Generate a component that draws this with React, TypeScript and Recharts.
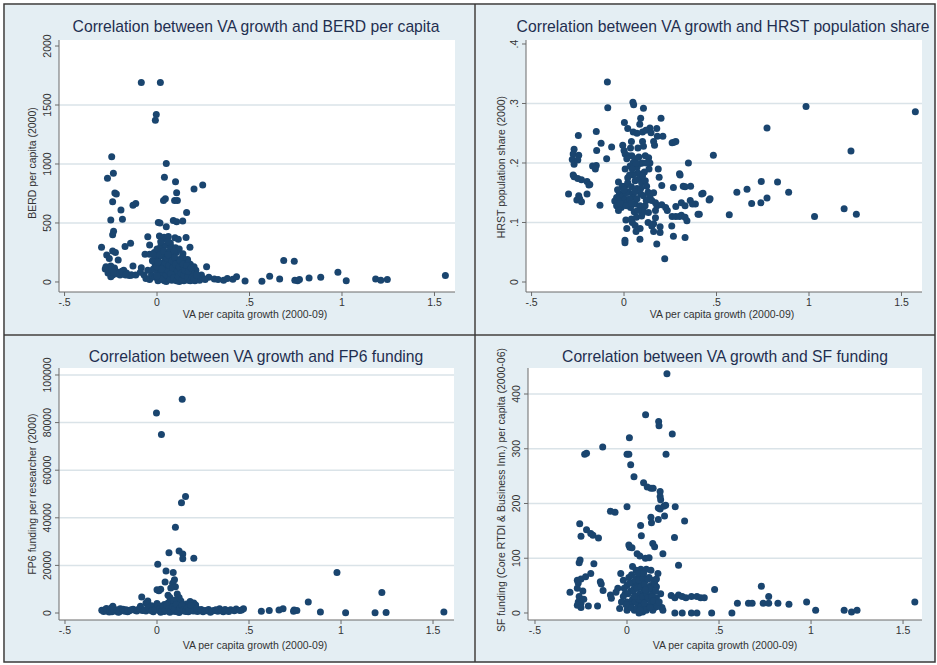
import React from 'react';
import { ScatterChart, Scatter, XAxis, YAxis, CartesianGrid } from 'recharts';

// ---------- tick values & labels ----------
const xTickValues = [-0.5, 0, 0.5, 1, 1.5];
const xTickLabels = ['-.5', '0', '.5', '1', '1.5'];

const berdTicks = [0, 500, 1000, 1500, 2000];
const berdTickLabels = ['0', '500', '1000', '1500', '2000'];
const hrstTicks = [0, 0.1, 0.2, 0.3, 0.4];
const hrstTickLabels = ['0', '.1', '.2', '.3', '.4'];
const fp6Ticks = [0, 20000, 40000, 60000, 80000, 100000];
const fp6TickLabels = ['0', '20000', '40000', '60000', '80000', '100000'];
const sfTicks = [0, 100, 200, 300, 400];
const sfTickLabels = ['0', '100', '200', '300', '400'];

// ---------- data: [VA per capita growth, indicator] ----------
const berdPoints: [number, number][] = [
  [-0.085, 1690], [0.018, 1690], [-0.004, 1420], [-0.009, 1370],
  [0.05, 1005], [-0.245, 1062], [-0.236, 921], [-0.268, 879], [0.04, 887], [0.1, 850], [0.2, 788], [0.247, 822],
  [-0.228, 755], [-0.22, 745], [-0.24, 680], [-0.13, 650], [-0.115, 665], [0.106, 757], [0.045, 705], [0.035, 690], [0.095, 690], [0.11, 690],
  [-0.195, 610], [-0.25, 525], [-0.187, 531], [0.16, 588], [0.007, 505], [0.016, 500], [0.05, 469], [0.088, 520], [0.106, 510], [0.139, 517],
  [-0.235, 430], [-0.24, 400], [-0.05, 384], [0.013, 390], [0.038, 380], [0.05, 365], [0.061, 385], [0.097, 375], [0.115, 362], [0.157, 376],
  [-0.3, 294], [-0.173, 300], [-0.143, 328], [-0.04, 313], [0.178, 294],
  [-0.24, 262], [-0.225, 250], [-0.272, 229], [-0.258, 200], [-0.21, 186], [-0.065, 234], [-0.04, 234],
  [-0.276, 130], [-0.25, 135], [-0.23, 118], [-0.21, 80], [-0.18, 100], [-0.165, 75], [-0.14, 60], [-0.115, 60], [-0.24, 60], [-0.26, 90],
  [-0.25, 45], [-0.13, 135], [-0.085, 120], [-0.09, 82], [-0.137, 60], [-0.225, 95], [-0.2, 60], [-0.15, 55],
  [0.268, 130], [0.18, 150], [0.165, 190], [0.22, 40], [0.25, 30],
  [0.28, 40], [0.31, 25], [0.33, 20], [0.36, 15], [0.38, 30], [0.41, 23], [0.43, 45], [0.476, 8], [0.567, 6], [0.609, 48], [0.663, 25],
  [0.685, 181], [0.742, 175], [0.745, 15], [0.76, 10], [0.77, 20], [0.822, 34], [0.885, 40], [0.978, 82], [1.023, 11], [1.182, 25],
  [1.21, 15], [1.245, 22], [1.559, 54],
  [-0.04, 20], [-0.03, 60], [-0.02, 110], [-0.01, 150], [-0.01, 40], [0.0, 200], [0.0, 90], [0.005, 10], [0.01, 250], [0.01, 170],
  [0.015, 60], [0.02, 130], [0.02, 20], [0.025, 220], [0.03, 95], [0.03, 280], [0.035, 160], [0.04, 50], [0.04, 10], [0.045, 200],
  [0.05, 120], [0.05, 240], [0.055, 75], [0.06, 180], [0.06, 30], [0.065, 260], [0.07, 140], [0.07, 100], [0.075, 200], [0.08, 60],
  [0.08, 15], [0.085, 230], [0.09, 160], [0.09, 110], [0.095, 40], [0.1, 190], [0.1, 80], [0.105, 250], [0.11, 130], [0.11, 20],
  [0.115, 170], [0.12, 60], [0.125, 100], [0.13, 200], [0.13, 30], [0.135, 140], [0.14, 90], [0.145, 10], [0.15, 170], [0.15, 50],
  [0.155, 120], [0.16, 30], [0.165, 80], [0.17, 15], [0.175, 110], [0.18, 50], [0.19, 20], [0.2, 75], [0.205, 10], [0.21, 100],
  [-0.025, 180], [-0.015, 250], [0.0, 280], [0.02, 300], [0.045, 310], [0.075, 300], [0.1, 290], [0.12, 280], [0.14, 240], [0.035, 130],
  [0.065, 50], [0.085, 190], [0.05, 5], [0.12, 5], [0.17, 160], [0.0, 130], [0.027, 70], [0.058, 150], [0.092, 260], [0.14, 210],
  [0.24, 60], [0.23, 15], [0.26, 20], [0.19, 70], [0.2, 130], [-0.05, 100], [-0.06, 30], [-0.07, 60], [-0.02, 230], [0.072, 330],
  [0.06, 340], [0.02, 340],
  [0.01, 40], [0.02, 75], [0.03, 30], [0.04, 110], [0.045, 160], [0.05, 60], [0.055, 200], [0.06, 95], [0.065, 140], [0.07, 20],
  [0.075, 70], [0.08, 180], [0.085, 120], [0.09, 35], [0.095, 210], [0.1, 150], [0.105, 10], [0.11, 95], [0.115, 45], [0.12, 130],
  [0.125, 180], [0.13, 75], [0.135, 20], [0.14, 150], [0.145, 60], [0.15, 100], [0.16, 140], [0.165, 40], [0.17, 90], [0.18, 10],
  [0.185, 120], [0.19, 40], [0.2, 25], [0.215, 60], [0.0, 50], [0.005, 170], [0.015, 230], [0.025, 110], [0.035, 260], [0.06, 230],
  [-0.28, 110], [-0.265, 75], [-0.245, 105], [-0.22, 70], [-0.19, 90], [-0.17, 60], [-0.235, 80],
];

const hrstPoints: [number, number][] = [
  [-0.09, 0.336], [-0.088, 0.293], [0.048, 0.302], [0.052, 0.298], [0.105, 0.292], [0.984, 0.295], [1.575, 0.286], [0.773, 0.259],
  [1.227, 0.22], [0.483, 0.213], [0.348, 0.2], [0.3, 0.182], [0.742, 0.169], [0.83, 0.168], [0.89, 0.151], [0.665, 0.156], [0.61, 0.151],
  [0.69, 0.132], [0.74, 0.133], [0.773, 0.141], [0.569, 0.113], [1.03, 0.11], [1.19, 0.123], [1.256, 0.114], [0.46, 0.138], [0.427, 0.149],
  [0.407, 0.114], [0.386, 0.131], [0.358, 0.137], [0.32, 0.161], [0.33, 0.16],
  [0.002, 0.268], [0.02, 0.258], [0.09, 0.275], [0.085, 0.265], [0.2, 0.275], [0.177, 0.258], [0.14, 0.259], [0.05, 0.252], [0.07, 0.25],
  [0.1, 0.252], [0.118, 0.255], [0.146, 0.251], [0.18, 0.245], [0.21, 0.245], [0.26, 0.234], [0.27, 0.235], [0.28, 0.236],
  [-0.247, 0.246], [-0.15, 0.253], [-0.124, 0.233], [-0.067, 0.227], [-0.007, 0.23], [0.04, 0.236], [0.1, 0.236], [0.105, 0.228],
  [0.16, 0.236], [0.165, 0.23],
  [-0.148, 0.221], [-0.27, 0.223], [-0.275, 0.215], [-0.28, 0.206], [-0.27, 0.198], [-0.245, 0.213], [-0.25, 0.205], [-0.094, 0.207],
  [-0.15, 0.196], [-0.17, 0.195], [-0.155, 0.19],
  [-0.275, 0.18], [-0.27, 0.177], [-0.25, 0.174], [-0.23, 0.172], [-0.2, 0.169], [-0.185, 0.164], [-0.3, 0.148], [-0.245, 0.145],
  [-0.255, 0.138], [-0.24, 0.14], [-0.2, 0.148], [-0.19, 0.163], [-0.13, 0.129], [-0.23, 0.135],
  [0.0, 0.221], [0.006, 0.215], [0.024, 0.212], [0.015, 0.207], [0.042, 0.212], [0.06, 0.207], [0.05, 0.201], [0.033, 0.195],
  [0.006, 0.19], [0.07, 0.193], [0.087, 0.199], [0.115, 0.212], [0.133, 0.209], [0.14, 0.2], [0.135, 0.19], [0.185, 0.19],
  [0.19, 0.176], [0.075, 0.183], [0.05, 0.18], [0.02, 0.175],
  [-0.03, 0.168], [-0.01, 0.161], [0.005, 0.161], [0.02, 0.167], [-0.025, 0.148], [-0.04, 0.142], [-0.05, 0.136], [-0.025, 0.139],
  [-0.005, 0.145], [0.005, 0.139], [0.025, 0.151], [0.05, 0.148], [-0.04, 0.128], [-0.015, 0.125], [-0.03, 0.12], [-0.005, 0.131],
  [0.02, 0.134], [0.05, 0.142],
  [0.08, 0.173], [0.095, 0.167], [0.115, 0.17], [0.122, 0.161], [0.09, 0.148], [0.105, 0.145], [0.13, 0.151], [0.14, 0.143],
  [0.15, 0.137], [0.06, 0.131], [0.087, 0.128], [0.114, 0.128], [0.105, 0.119], [0.132, 0.117], [0.17, 0.133], [0.178, 0.128],
  [0.204, 0.13], [0.204, 0.162], [0.267, 0.159], [0.303, 0.18], [0.36, 0.161], [0.225, 0.125], [0.234, 0.12], [0.28, 0.127],
  [0.31, 0.133], [0.33, 0.128], [0.37, 0.131], [0.42, 0.148], [0.465, 0.14], [0.4, 0.114],
  [0.26, 0.11], [0.28, 0.11], [0.3, 0.11], [0.31, 0.112], [0.33, 0.109], [0.34, 0.103], [0.258, 0.094], [0.267, 0.077], [0.33, 0.075],
  [0.01, 0.104], [0.04, 0.106], [0.067, 0.109], [0.095, 0.111], [0.1, 0.116], [0.015, 0.09], [0.06, 0.095], [0.087, 0.09],
  [0.005, 0.07], [0.005, 0.066], [0.086, 0.072], [0.177, 0.064], [0.22, 0.039], [0.13, 0.1], [0.15, 0.094], [0.16, 0.085],
  [0.195, 0.093], [0.195, 0.083], [0.16, 0.098], [0.17, 0.108],
  [0.03, 0.18], [0.06, 0.17], [0.04, 0.16], [0.07, 0.157], [0.01, 0.15], [0.035, 0.125], [0.055, 0.118], [0.075, 0.12], [0.045, 0.1],
  [0.065, 0.085],
  [-0.035, 0.155], [-0.02, 0.132], [0.0, 0.155], [0.012, 0.128], [0.03, 0.14], [0.04, 0.132], [0.06, 0.152], [0.07, 0.14],
  [0.045, 0.19], [0.065, 0.2], [0.08, 0.21], [0.1, 0.2], [0.11, 0.185], [0.12, 0.2], [0.1, 0.178], [0.035, 0.225], [0.075, 0.225],
  [0.12, 0.137], [0.16, 0.15], [0.17, 0.12], [0.09, 0.157],
];

const fp6Points: [number, number][] = [
  [0.137, 89800], [-0.003, 84000], [0.024, 75000], [0.155, 48900], [0.133, 46300], [0.1, 36000], [0.065, 25300], [0.12, 26100],
  [0.14, 24800], [0.14, 22800], [0.2, 23000], [0.004, 20500], [0.049, 17600], [0.088, 17000], [0.978, 17000], [1.222, 8600], [0.822, 4600],
  [0.044, 13000], [0.085, 12500], [0.095, 14000], [0.1, 11000], [0.075, 10500], [0.0, 9800], [0.01, 9300], [0.02, 10000], [0.06, 7500],
  [0.07, 6500], [0.11, 8000], [0.12, 6500], [0.13, 5000], [0.1, 5500], [0.115, 4200], [-0.083, 6700], [-0.05, 5000], [-0.06, 4200],
  [0.2, 4200], [0.18, 4800], [0.16, 3800],
  [-0.3, 1200], [-0.28, 1500], [-0.27, 800], [-0.25, 2000], [-0.24, 2800], [-0.23, 1200], [-0.22, 700], [-0.2, 1800], [-0.19, 1000],
  [-0.17, 1400], [-0.15, 900], [-0.13, 1600], [-0.12, 1200], [-0.1, 1500], [-0.09, 2800], [-0.08, 1000], [-0.26, 400], [-0.21, 300],
  [-0.16, 500], [-0.06, 800], [-0.04, 1600],
  [-0.03, 3000], [-0.02, 500], [0.0, 2200], [0.0, 4000], [0.01, 1000], [0.02, 2800], [0.02, 300], [0.03, 1700], [0.04, 3600], [0.04, 600],
  [0.05, 2400], [0.06, 1200], [0.06, 4200], [0.07, 300], [0.07, 2800], [0.08, 1800], [0.08, 3800], [0.09, 800], [0.09, 5000], [0.1, 2500],
  [0.1, 600], [0.11, 1500], [0.12, 3000], [0.12, 200], [0.13, 1900], [0.14, 900], [0.15, 2600], [0.16, 1200], [0.17, 500], [0.18, 2000],
  [0.19, 900], [0.2, 1400], [0.21, 3400], [0.22, 600], [0.23, 1200], [0.25, 500], [0.27, 900], [0.29, 300], [0.31, 1000], [0.33, 700],
  [0.34, 1800], [0.36, 500], [0.38, 900], [0.4, 1400], [0.43, 1700], [0.46, 1300], [0.47, 1800],
  [0.567, 700], [0.61, 1000], [0.663, 1300], [0.685, 1800], [0.742, 700], [0.745, 1300], [0.76, 1000], [0.888, 420], [1.025, 150],
  [1.185, 150], [1.245, 200], [1.559, 450],
  [-0.29, 600], [-0.275, 1900], [-0.255, 1100], [-0.245, 500], [-0.235, 1700], [-0.215, 1300], [-0.205, 500], [-0.185, 1600],
  [-0.175, 700], [-0.16, 1200], [-0.14, 1400], [-0.11, 800], [-0.095, 1900], [-0.07, 1300], [-0.05, 2200], [-0.03, 900],
  [-0.01, 1500], [0.005, 3200], [0.015, 1800], [0.025, 900], [0.035, 2600], [0.045, 1300], [0.055, 3300], [0.065, 1900],
  [0.075, 900], [0.085, 2600], [0.095, 1600], [0.105, 3600], [0.115, 700], [0.125, 2100], [0.135, 3300], [0.145, 1400],
  [0.155, 600], [0.165, 2200], [0.175, 1300], [0.185, 3100], [0.2, 800], [0.215, 1900], [0.24, 1500], [0.26, 1100], [0.28, 1500],
  [0.3, 800], [0.32, 1400], [0.35, 1100], [0.37, 1500], [0.39, 600], [0.42, 900], [0.45, 1000],
];

const sfPoints: [number, number][] = [
  [0.217, 437], [0.101, 362], [0.172, 350], [0.174, 342], [0.246, 327], [0.013, 320], [-0.132, 303], [-0.23, 290], [-0.22, 292],
  [0.0, 290], [0.01, 290], [0.212, 290], [0.02, 271], [0.038, 249], [0.09, 238], [0.11, 230], [0.13, 228], [0.142, 228], [0.18, 222],
  [0.18, 213], [0.183, 207], [-0.09, 186], [-0.065, 184], [0.0, 194], [0.17, 192], [0.18, 190], [0.2, 195], [0.21, 197], [0.262, 194],
  [0.313, 168], [0.13, 175], [0.133, 165], [0.204, 177], [0.17, 171], [-0.257, 163], [-0.22, 152], [-0.197, 145], [-0.185, 142],
  [-0.155, 137], [-0.25, 140], [0.074, 160], [0.078, 141], [0.14, 127], [0.15, 121], [0.01, 124], [0.015, 120], [0.027, 119],
  [0.258, 138], [0.055, 108], [0.07, 104], [0.1, 100], [0.12, 101], [0.195, 108], [0.28, 87], [-0.26, 92], [-0.255, 97], [-0.18, 90],
  [-0.27, 60], [-0.265, 55], [-0.25, 62], [-0.225, 66], [-0.197, 72], [-0.145, 57], [-0.14, 53], [-0.31, 38], [-0.27, 45], [-0.26, 30],
  [-0.265, 20], [-0.25, 18], [-0.27, 14], [-0.25, 10], [-0.235, 25], [-0.21, 13], [-0.16, 13], [-0.13, 41], [-0.09, 33], [-0.085, 27],
  [-0.034, 72], [-0.04, 8], [-0.05, 45], [-0.06, 38], [-0.24, 40],
  [-0.02, 60], [-0.01, 35], [0.0, 20], [0.0, 50], [0.01, 65], [0.01, 10], [0.02, 40], [0.03, 55], [0.03, 25], [0.04, 5], [0.04, 45],
  [0.05, 30], [0.05, 62], [0.06, 15], [0.06, 50], [0.07, 35], [0.07, 70], [0.08, 20], [0.08, 55], [0.09, 5], [0.09, 40], [0.1, 25],
  [0.1, 60], [0.11, 12], [0.11, 45], [0.12, 30], [0.12, 65], [0.13, 18], [0.13, 50], [0.14, 38], [0.15, 10], [0.15, 55], [0.16, 28],
  [0.168, 72], [0.183, 35], [0.19, 10], [0.195, 5], [0.075, 80], [0.05, 78], [0.13, 78], [0.03, 85], [0.085, 2], [0.02, 15], [0.105, 80],
  [0.045, 20], [0.065, 0], [-0.03, 20], [0.14, 5], [0.16, 48], [0.0, 5],
  [0.24, 32], [0.26, 28], [0.28, 33], [0.3, 30], [0.32, 28], [0.35, 30], [0.38, 30], [0.4, 28], [0.42, 28], [0.26, 0], [0.3, 0],
  [0.35, 0], [0.38, 0], [0.46, 0], [0.57, 0], [0.476, 43], [0.6, 18], [0.66, 18], [0.68, 18], [0.73, 49], [0.74, 18], [0.77, 30],
  [0.77, 18], [0.82, 18], [0.88, 16], [0.976, 20], [1.025, 5], [1.18, 5], [1.22, 2], [1.25, 5], [1.564, 20],
  [-0.015, 45], [-0.005, 15], [0.005, 35], [0.015, 55], [0.025, 10], [0.035, 40], [0.045, 60], [0.055, 45], [0.055, 8], [0.065, 25],
  [0.065, 60], [0.075, 48], [0.075, 12], [0.085, 30], [0.085, 65], [0.095, 18], [0.095, 52], [0.105, 38], [0.105, 5], [0.115, 28],
  [0.115, 62], [0.125, 45], [0.125, 10], [0.135, 30], [0.145, 22], [0.145, 60], [0.155, 40], [0.165, 12], [0.025, 70], [0.06, 72],
  [0.09, 72], [0.12, 45], [0.04, 30], [0.1, 42], [0.07, 5], [-0.02, 30], [0.175, 20], [0.16, 62],
];

// ---------- style / layout ----------
const FONT = '"Liberation Sans", Arial, Helvetica, sans-serif';
const DOT = '#1a456f';
const PANEL_BG = '#e4eef3';
const AXIS = '#6b6b6b';
const TEXT = '#333333';
const TITLE = '#1f2f50';
const YW = 30;
const XH = 20;

type Box = { x: number; y: number; w: number; h: number };
type PanelCfg = {
  key: string;
  data: [number, number][];
  bg: Box;
  plot: Box;
  xDomain: [number, number];
  yDomain: [number, number];
  yTicks: number[];
  yLabels: string[];
  grid: number[];
  title: string;
  titleX: number;
  titleY: number;
  xTitle: string;
  xTitleX: number;
  xTitleY: number;
  yTitle: string;
  yTitleX: number;
  yTitleY: number;
};

const panels: PanelCfg[] = [
  {
    key: 'berd', data: berdPoints,
    bg: { x: 5, y: 5, w: 469, h: 329 }, plot: { x: 59, y: 40, w: 396, h: 252 },
    xDomain: [-0.53, 1.611], yDomain: [-85, 2051],
    yTicks: berdTicks, yLabels: berdTickLabels, grid: [500, 1000, 1500],
    title: 'Correlation between VA growth and BERD per capita', titleX: 256, titleY: 32,
    xTitle: 'VA per capita growth (2000-09)', xTitleX: 255, xTitleY: 318,
    yTitle: 'BERD per capita (2000)', yTitleX: 36, yTitleY: 163,
  },
  {
    key: 'hrst', data: hrstPoints,
    bg: { x: 476, y: 5, w: 459, h: 329 }, plot: { x: 526, y: 40, w: 396, h: 252 },
    xDomain: [-0.53, 1.611], yDomain: [-0.0168, 0.4067],
    yTicks: hrstTicks, yLabels: hrstTickLabels, grid: [0.1, 0.2, 0.3],
    title: 'Correlation between VA growth and HRST population share', titleX: 723, titleY: 32,
    xTitle: 'VA per capita growth (2000-09)', xTitleX: 722, xTitleY: 318,
    yTitle: 'HRST population share (2000)', yTitleX: 505, yTitleY: 167,
  },
  {
    key: 'fp6', data: fp6Points,
    bg: { x: 5, y: 336, w: 469, h: 326 }, plot: { x: 59, y: 368, w: 395, h: 252 },
    xDomain: [-0.5326, 1.614], yDomain: [-2941, 102940],
    yTicks: fp6Ticks, yLabels: fp6TickLabels, grid: [20000, 40000, 60000, 80000, 100000],
    title: 'Correlation between VA growth and FP6 funding', titleX: 256, titleY: 362,
    xTitle: 'VA per capita growth (2000-09)', xTitleX: 255, xTitleY: 649,
    yTitle: 'FP6 funding per researcher (2000)', yTitleX: 36, yTitleY: 494,
  },
  {
    key: 'sf', data: sfPoints,
    bg: { x: 476, y: 336, w: 459, h: 326 }, plot: { x: 528, y: 368, w: 394, h: 252 },
    xDomain: [-0.538, 1.603], yDomain: [-12.8, 447.5],
    yTicks: sfTicks, yLabels: sfTickLabels, grid: [100, 200, 300, 400],
    title: 'Correlation between VA growth and SF funding', titleX: 725, titleY: 362,
    xTitle: 'VA per capita growth (2000-09)', xTitleX: 725, xTitleY: 649,
    yTitle: 'SF funding (Core RTDI & Business Inn.) per capita (2000-06)', yTitleX: 505, yTitleY: 490,
  },
];

const renderDot = (p: any) => <circle cx={p.cx} cy={p.cy} r={3.5} fill={DOT} />;

const XTick = (p: any) => {
  const i = xTickValues.indexOf(p.payload.value);
  return (
    <text x={p.x} y={p.y} dy="0.75em" textAnchor="middle" fontSize={10.5} fill={TEXT} fontFamily={FONT}>
      {i >= 0 ? xTickLabels[i] : String(p.payload.value)}
    </text>
  );
};

const makeYTick = (ticks: number[], labels: string[]) => (p: any) => {
  const i = ticks.indexOf(p.payload.value);
  const cx = p.x - 3;
  return (
    <text x={cx} y={p.y} transform={`rotate(-90, ${cx}, ${p.y})`} textAnchor="middle" fontSize={10.5} fill={TEXT} fontFamily={FONT}>
      {i >= 0 ? labels[i] : String(p.payload.value)}
    </text>
  );
};

function Panel({ cfg }: { cfg: PanelCfg }) {
  const { bg, plot } = cfg;
  const data = cfg.data.map(([x, y]) => ({ x, y }));
  const margin = {
    top: plot.y - bg.y,
    right: bg.x + bg.w - (plot.x + plot.w),
    bottom: bg.y + bg.h - (plot.y + plot.h) - XH,
    left: plot.x - bg.x - YW,
  };
  return (
    <div style={{ position: 'absolute', left: bg.x, top: bg.y, width: bg.w, height: bg.h }}>
      <ScatterChart width={bg.w} height={bg.h} margin={margin}>
        <CartesianGrid
          horizontal
          vertical={false}
          fill="#ffffff"
          fillOpacity={1}
          stroke="#dae3e8"
          strokeWidth={1.5}
          horizontalValues={cfg.grid}
        />
        <XAxis
          type="number"
          dataKey="x"
          domain={cfg.xDomain}
          ticks={xTickValues}
          allowDataOverflow
          interval={0}
          height={XH}
          tickSize={4}
          tickMargin={2}
          axisLine={{ stroke: AXIS }}
          tickLine={{ stroke: AXIS }}
          tick={<XTick />}
        />
        <YAxis
          type="number"
          dataKey="y"
          domain={cfg.yDomain}
          ticks={cfg.yTicks}
          allowDataOverflow
          interval={0}
          width={YW}
          tickSize={4}
          tickMargin={1}
          axisLine={{ stroke: AXIS }}
          tickLine={{ stroke: AXIS }}
          tick={makeYTick(cfg.yTicks, cfg.yLabels)}
        />
        <Scatter data={data} isAnimationActive={false} shape={renderDot} />
      </ScatterChart>
    </div>
  );
}

export default function App() {
  return (
    <div style={{ position: 'absolute', left: 0, top: 0, width: 937, height: 665, background: '#ffffff', overflow: 'hidden', fontFamily: FONT }}>
      {panels.map((cfg) => (
        <div key={cfg.key + '-bg'} style={{ position: 'absolute', left: cfg.bg.x, top: cfg.bg.y, width: cfg.bg.w, height: cfg.bg.h, background: PANEL_BG }} />
      ))}
      {panels.map((cfg) => (
        <Panel key={cfg.key} cfg={cfg} />
      ))}
      <svg width={937} height={665} style={{ position: 'absolute', left: 0, top: 0, pointerEvents: 'none' }}>
        {panels.map((cfg) => (
          <g key={cfg.key + '-txt'} fontFamily={FONT}>
            <text x={cfg.titleX} y={cfg.titleY} textAnchor="middle" fontSize={15.7} fill={TITLE}>{cfg.title}</text>
            <text x={cfg.xTitleX} y={cfg.xTitleY} textAnchor="middle" fontSize={10.5} fill={TEXT}>{cfg.xTitle}</text>
            <text
              x={cfg.yTitleX}
              y={cfg.yTitleY}
              textAnchor="middle"
              fontSize={10.5}
              fill={TEXT}
              transform={`rotate(-90, ${cfg.yTitleX}, ${cfg.yTitleY})`}
            >
              {cfg.yTitle}
            </text>
          </g>
        ))}
        <rect x={4} y={4} width={931} height={658} fill="none" stroke="#3a3a3a" strokeWidth={1.5} />
        <line x1={475} y1={4} x2={475} y2={662} stroke="#3a3a3a" strokeWidth={1.5} />
        <line x1={4} y1={335} x2={935} y2={335} stroke="#3a3a3a" strokeWidth={1.5} />
      </svg>
    </div>
  );
}
